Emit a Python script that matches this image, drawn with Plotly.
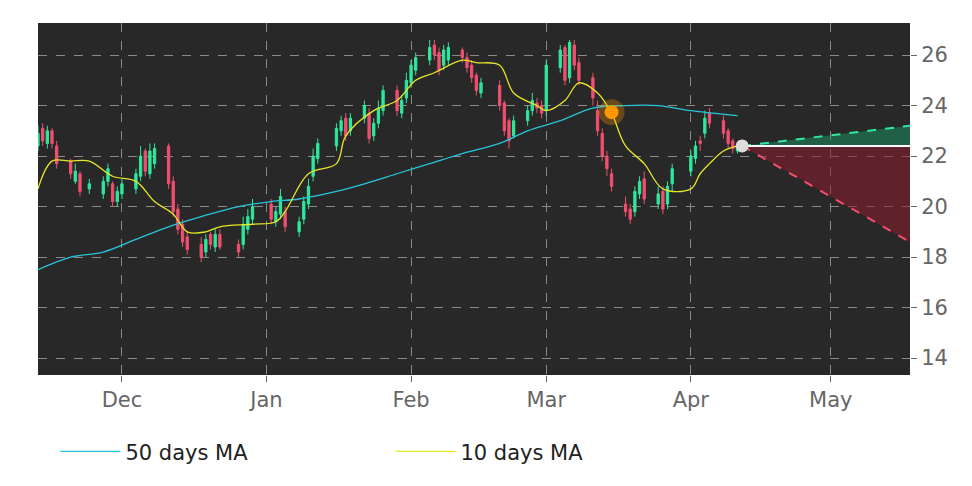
import pandas as pd
import plotly.graph_objects as go

holidays = ["2023-11-23", "2023-12-25", "2024-01-01", "2024-01-15", "2024-02-19", "2024-03-29"]
dates = [d for d in pd.bdate_range("2023-11-13", "2024-04-11") if d.strftime("%Y-%m-%d") not in holidays]

closes = [22.9, 22.6, 23.0, 22.5, 21.7, 21.3, 21.4, 20.6, 20.9, 21.0, 21.5, 20.2, 20.6,
          20.9, 21.3, 22.0, 21.4, 22.2, 22.3, 20.9, 19.8, 19.1, 18.6, 18.3, 18.0, 18.7, 18.5, 18.9, 18.4, 18.2, 19.3, 19.6, 20.0,
          19.5, 19.8, 20.4, 19.2, 19.4, 20.2, 20.8, 22.0, 22.5, 23.1, 23.4, 22.8, 23.5, 24.0, 22.7, 23.3, 23.9, 24.6, 23.8, 24.2, 25.0,
          25.6, 25.9, 26.3, 26.0, 25.4, 26.2, 26.3, 25.9, 25.5, 25.1, 24.6, 24.9, 24.0, 23.0, 22.6, 23.4, 23.8, 24.2, 23.9, 23.7,
          25.6, 26.2, 25.0, 26.5, 25.6, 25.0, 24.3, 23.0, 22.0, 21.5, 20.8, 19.8, 19.5, 20.6, 21.0, 20.3, 20.5, 19.9, 20.8, 21.5,
          22.0, 22.4, 22.5, 23.5, 23.3, 22.9, 22.5, 22.3, 22.4]
opens = [22.4, 23.1, 22.5, 23.0, 22.4, 21.8, 21.0, 21.3, 20.7, 20.5, 21.0, 20.9, 20.2,
         20.5, 20.7, 21.2, 22.2, 21.3, 21.7, 22.4, 21.0, 19.9, 19.3, 18.8, 18.5, 18.2, 18.9, 18.4, 18.9, 18.5, 18.5, 19.1, 19.5,
         20.1, 19.4, 19.7, 19.8, 19.0, 19.5, 20.1, 21.2, 21.9, 22.4, 23.0, 23.5, 23.0, 23.5, 23.7, 22.8, 23.3, 23.8, 24.6, 23.7, 24.3,
         24.9, 25.4, 25.8, 26.4, 26.1, 25.6, 25.8, 26.2, 25.9, 25.6, 25.2, 24.5, 24.8, 24.1, 23.4, 22.8, 23.4, 23.8, 24.1, 24.0,
         23.8, 25.5, 26.3, 25.1, 26.4, 25.7, 25.1, 23.8, 22.9, 22.0, 21.3, 20.1, 19.9, 19.8, 20.5, 21.1, 20.1, 20.6, 20.1, 20.9,
         21.4, 21.9, 22.6, 22.9, 23.7, 23.4, 23.0, 22.6, 22.2]
highs = [23.2, 23.3, 23.2, 23.1, 22.6, 21.9, 21.7, 21.4, 21.1, 21.2, 21.7, 21.0, 20.8,
         21.1, 21.5, 22.4, 22.3, 22.5, 22.5, 22.5, 21.2, 20.1, 19.5, 19.0, 18.8, 18.9, 19.0, 19.1, 19.1, 18.7, 19.6, 19.9, 20.3,
         20.3, 20.0, 20.7, 20.0, 19.6, 20.4, 21.1, 22.3, 22.7, 23.3, 23.6, 23.7, 23.7, 24.2, 23.9, 23.5, 24.2, 24.8, 24.8, 24.4, 25.3,
         25.8, 26.1, 26.6, 26.6, 26.3, 26.4, 26.5, 26.3, 26.1, 25.8, 25.3, 25.1, 25.0, 24.2, 23.5, 23.6, 24.0, 24.5, 24.3, 24.2,
         25.8, 26.4, 26.4, 26.6, 26.6, 25.9, 25.3, 24.2, 23.1, 22.2, 21.5, 20.4, 20.1, 20.8, 21.2, 21.4, 20.8, 20.8, 21.0, 21.7,
         22.2, 22.6, 22.8, 23.8, 23.9, 23.6, 23.1, 22.7, 22.5]
lows = [22.2, 22.4, 22.3, 22.3, 21.5, 21.1, 20.9, 20.4, 20.5, 20.3, 20.8, 20.0, 20.0,
        20.3, 20.5, 21.0, 21.2, 21.1, 21.5, 20.7, 19.6, 18.9, 18.4, 18.1, 17.8, 18.0, 18.3, 18.2, 18.3, 18.0, 18.3, 18.9, 19.3,
        19.3, 19.2, 19.5, 19.0, 18.8, 19.3, 19.9, 21.0, 21.7, 22.2, 22.8, 22.6, 22.8, 23.3, 22.5, 22.6, 23.1, 23.6, 23.6, 23.5, 24.1,
        24.7, 25.2, 25.6, 25.8, 25.2, 25.4, 25.6, 25.7, 25.3, 24.9, 24.4, 24.3, 23.8, 22.8, 22.3, 22.7, 23.2, 23.6, 23.7, 23.5,
        23.6, 25.3, 24.8, 24.9, 25.4, 24.8, 24.0, 22.8, 21.8, 21.2, 20.6, 19.6, 19.3, 19.6, 20.3, 20.1, 19.9, 19.7, 19.9, 20.6,
        21.2, 21.7, 22.2, 22.7, 23.1, 22.7, 22.3, 22.1, 22.1]

ma50_dates = ["2023-11-13", "2023-11-20", "2023-11-27", "2023-12-04", "2023-12-11", "2023-12-18", "2023-12-26",
              "2024-01-02", "2024-01-08", "2024-01-16", "2024-01-22", "2024-01-29", "2024-02-05", "2024-02-12",
              "2024-02-20", "2024-02-26", "2024-03-04", "2024-03-11", "2024-03-18", "2024-03-25", "2024-04-01", "2024-04-11"]
ma50 = [17.5, 18.0, 18.2, 18.7, 19.2, 19.6, 20.0, 20.2, 20.3, 20.6, 20.9, 21.3, 21.7, 22.1,
        22.5, 23.0, 23.4, 23.9, 24.0, 24.0, 23.8, 23.6]
ma10_dates = ["2023-11-13", "2023-11-16", "2023-11-20", "2023-11-24", "2023-11-29", "2023-12-04", "2023-12-08",
              "2023-12-12", "2023-12-15", "2023-12-19", "2023-12-22", "2023-12-29", "2024-01-03", "2024-01-05",
              "2024-01-10", "2024-01-16", "2024-01-18", "2024-01-24", "2024-01-29", "2024-02-02", "2024-02-06",
              "2024-02-12", "2024-02-15", "2024-02-20", "2024-02-23", "2024-02-28", "2024-03-01", "2024-03-05",
              "2024-03-08", "2024-03-12", "2024-03-15", "2024-03-18", "2024-03-22", "2024-03-26", "2024-04-01",
              "2024-04-03", "2024-04-05", "2024-04-08", "2024-04-11"]
ma10 = [20.7, 21.8, 21.8, 21.8, 21.2, 21.0, 20.2, 19.7, 19.0, 19.0, 19.2, 19.3, 19.4, 19.8,
        21.3, 21.7, 22.8, 23.8, 24.2, 25.0, 25.3, 25.8, 25.7, 25.6, 24.5, 24.0, 23.8, 24.2,
        24.9, 24.5, 23.7, 22.4, 21.7, 20.7, 20.7, 21.3, 21.7, 22.2, 22.4]

fc_dates = ["2024-04-12", "2024-05-18"]
fc_base = [22.4, 22.4]
fc_up = [22.4, 23.2]
fc_down = [22.4, 18.6]
signal_date, signal_val = "2024-03-15", 23.74
last_date, last_val = "2024-04-12", 22.4

n = min(len(dates), len(closes), len(opens), len(highs), len(lows))
fig = go.Figure()
fig.add_trace(go.Candlestick(x=dates[:n], open=opens[:n], high=highs[:n], low=lows[:n], close=closes[:n],
                             increasing=dict(line=dict(color="#2ee89e", width=1), fillcolor="#2ee89e"),
                             decreasing=dict(line=dict(color="#f0506e", width=1), fillcolor="#f0506e"),
                             whiskerwidth=0, showlegend=False, hoverinfo="skip"))
fig.add_trace(go.Scatter(x=ma50_dates, y=ma50, mode="lines", name="50 days MA", line_shape="spline",
                         line=dict(color="#26c6da", width=1.3)))
fig.add_trace(go.Scatter(x=ma10_dates, y=ma10, mode="lines", name="10 days MA", line_shape="spline",
                         line=dict(color="#e6e62a", width=1.3)))
fig.add_trace(go.Scatter(x=fc_dates, y=fc_base, mode="lines", line=dict(color="white", width=2), showlegend=False))
fig.add_trace(go.Scatter(x=fc_dates, y=fc_up, mode="lines", fill="tonexty", fillcolor="rgba(30,140,100,0.55)",
                         line=dict(color="#2ee89e", width=2, dash="dash"), showlegend=False))
fig.add_trace(go.Scatter(x=fc_dates, y=fc_base, mode="lines", line=dict(color="white", width=2), showlegend=False))
fig.add_trace(go.Scatter(x=fc_dates, y=fc_down, mode="lines", fill="tonexty", fillcolor="rgba(140,30,45,0.55)",
                         line=dict(color="#f0506e", width=2, dash="dash"), showlegend=False))
fig.add_trace(go.Scatter(x=[signal_date], y=[signal_val], mode="markers", showlegend=False,
                         marker=dict(size=26, color="rgba(255,152,0,0.3)")))
fig.add_trace(go.Scatter(x=[signal_date], y=[signal_val], mode="markers", showlegend=False,
                         marker=dict(size=14, color="#ff9800")))
fig.add_trace(go.Scatter(x=[last_date], y=[last_val], mode="markers", showlegend=False,
                         marker=dict(size=13, color="#dddddd")))

grid = dict(showgrid=True, gridcolor="#8a8a8a", griddash="dash", gridwidth=1, zeroline=False, automargin=False)
fig.update_layout(
    width=972, height=486, paper_bgcolor="white", plot_bgcolor="#282828",
    margin=dict(l=30, r=70, t=15, b=119, autoexpand=False),
    font=dict(family="DejaVu Sans", color="#666666", size=21),
    xaxis=dict(range=["2023-11-13", "2024-05-18"], rangeslider=dict(visible=False),
               tickvals=["2023-12-01", "2024-01-01", "2024-02-01", "2024-03-01", "2024-04-01", "2024-05-01"],
               ticktext=["Dec", "Jan", "Feb", "Mar", "Apr", "May"], ticks="outside", ticklen=6,
               tickcolor="#666666", **grid),
    yaxis=dict(side="right", range=[13.33, 27.27], tickvals=[14, 16, 18, 20, 22, 24, 26],
               ticks="outside", ticklen=6, tickcolor="#666666", **grid),
    legend=dict(orientation="h", traceorder="normal", x=0.02, y=-0.16, xanchor="left", yanchor="top",
                font=dict(size=21, color="#222222"), itemwidth=60, entrywidth=260),
    showlegend=True,
)
fig.write_html("out.html")
